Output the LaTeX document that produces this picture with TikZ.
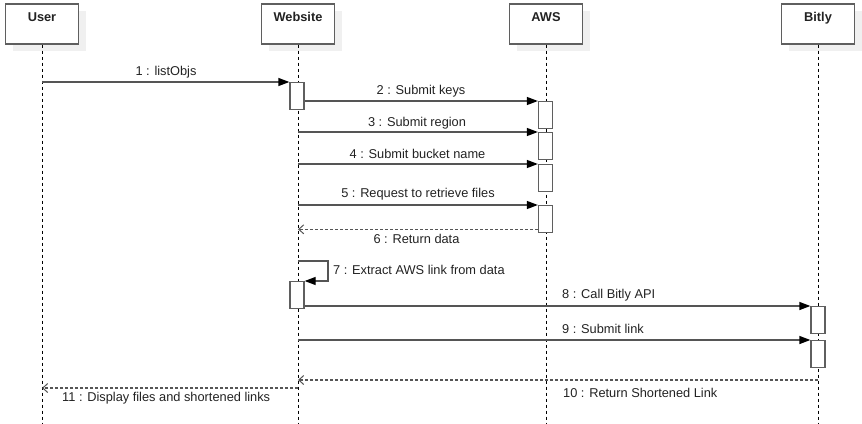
\documentclass[tikz,border=0pt]{standalone}
\usepackage{fontspec}
\setmainfont{Liberation Sans}
\usetikzlibrary{arrows.meta,calc,shadows}
\definecolor{boxc}{HTML}{5F5F5F}
\definecolor{linec}{HTML}{555555}
\definecolor{shadowc}{HTML}{F0F0F0}
\definecolor{textc}{HTML}{222222}
\begin{document}
\begin{tikzpicture}[x=1pt,y=-1pt,
  font=\fontsize{12.8}{14}\selectfont,
  every node/.style={text=textc},
  actor/.style={draw=boxc, line width=1.3pt, fill=white,
    minimum width=73pt, inner xsep=0pt, inner ysep=0pt,
    text height=17pt, text depth=23pt, font=\fontsize{12.8}{14}\selectfont\bfseries,
    drop shadow={shadow xshift=7pt,shadow yshift=-7pt,fill=shadowc,opacity=1}},
  act/.style={draw=boxc, line width=1.3pt, fill=white, minimum width=14pt,
    minimum height=27pt, inner sep=0pt, anchor=north},
  lifeline/.style={black, line width=0.9pt, dash pattern=on 3pt off 3pt},
  msg/.style={draw=linec, line width=1.3pt, -{Triangle[length=11pt,width=8pt,fill=black,color=black]}},
  ret/.style={draw=linec, line width=1.2pt, dash pattern=on 3pt off 2pt,
    -{Straight Barb[length=5pt,width=9pt,line width=1pt]}},
  lbl/.style={inner sep=0pt},
  lbll/.style={inner sep=0pt, anchor=west}
]
\useasboundingbox (0,0) rectangle (862,423);

% actors
\node[actor] (user) at (42,24) {User};
\node[actor] (web) at (298,24) {Website};
\node[actor] (aws) at (546,24) {AWS};
\node[actor] (bitly) at (818,24) {Bitly};

\coordinate (userend) at (42,423);
\coordinate (webend) at (298,423);
\coordinate (awsend) at (546,423);
\coordinate (bitlyend) at (818,423);
\draw[lifeline] (user.south) -- (userend);
\draw[lifeline] (web.south) -- (webend);
\draw[lifeline] (aws.south) -- (awsend);
\draw[lifeline] (bitly.south) -- (bitlyend);

% activations
\node[act] (w1) at (297,82) {};
\node[act] (a1) at (545.5,101) {};
\node[act] (a2) at (545.5,132) {};
\node[act] (a3) at (545.5,164) {};
\node[act] (a4) at (545.5,205) {};
\node[act] (w2) at (297,281) {};
\node[act] (b1) at (818,306) {};
\node[act] (b2) at (818,340) {};

% messages
\draw[msg] (user.south |- w1.north west) -- (w1.north west);
\node[lbl] at (166,72) {1 : listObjs};

\draw[msg] (w1.east |- a1.north west) -- (a1.north west);
\node[lbl] at (421,91) {2 : Submit keys};

\draw[msg] (web.south |- a2.north west) -- (a2.north west);
\node[lbl] at (417,123) {3 : Submit region};

\draw[msg] (web.south |- a3.north west) -- (a3.north west);
\node[lbl] at (417.5,154) {4 : Submit bucket name};

\draw[msg] (web.south |- a4.north west) -- (a4.north west);
\node[lbl] at (418,194) {5 : Request to retrieve files};

\coordinate (r6) at ($(a4.south west)+(0,-4)$);
\draw[ret] (r6) -- (web.south |- r6);
\node[lbl] at (416.5,239) {6 : Return data};

\coordinate (s7) at (298,261);
\draw[msg] (s7) -- ++(30,0) |- (w2.north east);
\node[lbll] at (333,270) {7 : Extract AWS link from data};

\draw[msg] (w2.east |- b1.north west) -- (b1.north west);
\node[lbll] at (562,295) {8 : Call Bitly API};

\draw[msg] (web.south |- b2.north west) -- (b2.north west);
\node[lbll] at (562,329) {9 : Submit link};

\coordinate (r10) at (818,380);
\draw[ret] (r10) -- (web.south |- r10);
\node[lbll] at (563,393) {10 : Return Shortened Link};

\coordinate (r11) at (298,388);
\draw[ret] (r11) -- (user.south |- r11);
\node[lbll] at (62,398) {11 : Display files and shortened links};
\end{tikzpicture}
\end{document}
